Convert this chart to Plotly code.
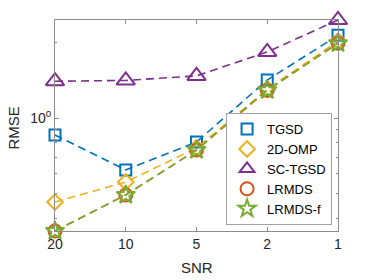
import plotly.graph_objects as go

snr = ["20", "10", "5", "2", "1"]
tgsd = [0.856, 0.622, 0.803, 1.415, 2.13]
omp2d = [0.464, 0.557, 0.760, 1.30, 2.02]
sctgsd = [1.40, 1.41, 1.47, 1.83, 2.45]
lrmds = [0.356, 0.495, 0.746, 1.29, 1.98]
lrmdsf = [0.356, 0.495, 0.746, 1.29, 1.98]

series = [
    ("TGSD", tgsd, "#0072BD", "square-open", 11),
    ("2D-OMP", omp2d, "#EDB120", "diamond-open", 12),
    ("SC-TGSD", sctgsd, "#7E2F8E", "triangle-up-open", 16),
    ("LRMDS", lrmds, "#D95319", "circle-open", 13),
    ("LRMDS-f", lrmdsf, "#77AC30", "star-open", 14),
]

fig = go.Figure()
for name, vals, col, sym, sz in series:
    fig.add_trace(go.Scatter(
        x=snr, y=vals, name=name, mode="lines+markers", showlegend=False,
        line=dict(color=col, width=1.6, dash="8px,5px"),
        marker=dict(symbol=sym, size=sz, color=col, line=dict(color=col, width=2)),
        cliponaxis=False,
    ))
# legend entries (marker only, as in the reference legend)
for name, vals, col, sym, sz in series:
    fig.add_trace(go.Scatter(
        x=[None], y=[None], name=name, mode="markers",
        marker=dict(symbol=sym, size=min(sz, 13), color=col, line=dict(color=col, width=2)),
    ))

fig.update_layout(
    width=374, height=280,
    margin=dict(l=55, r=36, t=20, b=49, autoexpand=False),
    paper_bgcolor="white", plot_bgcolor="white",
    font=dict(family="Liberation Sans, Arial, sans-serif", size=14, color="#262626"),
    showlegend=True,
    legend=dict(
        x=0.979, y=0.028, xanchor="right", yanchor="bottom",
        bgcolor="white", bordercolor="#a0a0a0", borderwidth=1,
        font=dict(size=13, color="#000000"),
        itemwidth=30, tracegroupgap=0,
    ),
    annotations=[
        dict(text="SNR", xref="paper", yref="paper", x=0.5, y=-0.175,
             xanchor="center", yanchor="middle", showarrow=False,
             font=dict(size=15, color="#262626")),
        dict(text="RMSE", xref="paper", yref="paper", x=-0.145, y=0.49,
             xanchor="center", yanchor="middle", showarrow=False, textangle=-90,
             font=dict(size=15, color="#262626")),
    ],
)
fig.update_xaxes(
    type="category", range=[0, 4], automargin=False,
    showline=True, linecolor="#8c8c8c", linewidth=1, mirror="ticks",
    ticks="inside", ticklen=4, tickcolor="#8c8c8c",
    showgrid=False, zeroline=False,
    tickfont=dict(size=14),
)
fig.update_yaxes(
    type="log", range=[-0.4486, 0.3892], automargin=False,
    tickvals=[1], ticktext=["10<sup>0</sup>"],
    showline=True, linecolor="#8c8c8c", linewidth=1, mirror="ticks",
    ticks="inside", ticklen=4, tickcolor="#8c8c8c",
    minor=dict(tickvals=[0.4, 0.5, 0.6, 0.7, 0.8, 0.9, 2], ticks="inside", ticklen=2, tickcolor="#8c8c8c"),
    showgrid=False, zeroline=False,
    tickfont=dict(size=14),
)

fig.write_html("out.html", config={"displayModeBar": False},
               post_script="document.body.style.margin='0px';document.body.style.overflow='hidden';")
